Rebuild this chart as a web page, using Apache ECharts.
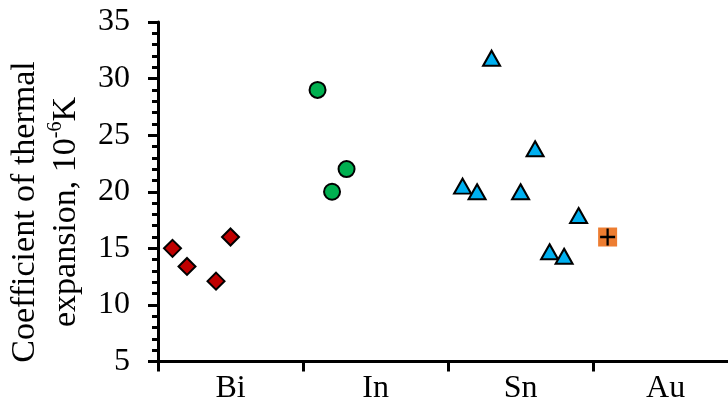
<!DOCTYPE html>
<html>
<head>
<meta charset="utf-8">
<script src="https://cdn.jsdelivr.net/npm/echarts@6/dist/echarts.min.js"></script>
<style>
html,body{margin:0;padding:0;background:#fff;}
#chart{width:728px;height:406px;}
</style>
</head>
<body>
<div id="chart"></div>
<script>
// Categories and tick labels
var categories = ['Bi', 'In', 'Sn', 'Au'];
var yTicks = [5, 10, 15, 20, 25, 30, 35];
var xBoundaries = [0, 1, 2, 3];
var xLabelPos = [0.5, 1.5, 2.5, 3.5];

// Position of each point inside its category slot (0..1) and its value
var biPos = [0.1, 0.2, 0.4, 0.5];
var biVal = [15.0, 13.4, 12.1, 16.0];
var inPos = [0.1, 0.2, 0.3];
var inVal = [29.0, 20.0, 22.0];
var snPos = [0.1, 0.2, 0.3, 0.5, 0.6, 0.7, 0.8, 0.9];
var snVal = [20.5, 20.0, 31.8, 20.0, 23.8, 14.7, 14.3, 17.9];
var auPos = [0.1];
var auVal = [16.0];

function pts(catIdx, pos, val) {
  return pos.map(function (p, i) { return [catIdx + p, val[i]]; });
}

var FONT = 'Liberation Serif';
var chart = echarts.init(document.getElementById('chart'));
var option = {
  animation: false,
  backgroundColor: '#ffffff',
  grid: { left: 158, top: 22, bottom: 44.5, right: 0, containLabel: false },
  xAxis: {
    type: 'value', min: 0, max: 3.93,
    axisLine: { show: true, lineStyle: { color: '#000', width: 3 } },
    axisTick: { show: true, inside: false, length: 10, customValues: xBoundaries, lineStyle: { color: '#000', width: 3 } },
    axisLabel: {
      show: true, customValues: xLabelPos, margin: 11, color: '#000', fontFamily: FONT, fontSize: 32,
      formatter: function (v) { var i = Math.round(v - 0.5); return categories[i] || ''; }
    },
    splitLine: { show: false }
  },
  yAxis: {
    type: 'value', min: yTicks[0], max: yTicks[yTicks.length - 1], interval: 5,
    axisLine: { show: true, lineStyle: { color: '#000', width: 3 } },
    axisTick: { show: true, inside: false, length: 10, lineStyle: { color: '#000', width: 3 } },
    minorTick: { show: true, splitNumber: 5, length: 6, lineStyle: { color: '#000', width: 3 } },
    axisLabel: { margin: 28, color: '#000', fontFamily: FONT, fontSize: 32 },
    splitLine: { show: false }
  },
  graphic: [
    {
      type: 'text', x: 46, y: 212, rotation: Math.PI / 2,
      style: {
        text: 'Coefficient of thermal\nexpansion, 10{sup|-6}K',
        fontFamily: FONT, fontSize: 34, fill: '#000',
        lineHeight: 41,
        align: 'center', verticalAlign: 'middle',
        rich: { sup: { fontFamily: FONT, fontSize: 20, fill: '#000', verticalAlign: 'top', lineHeight: 41, padding: [0, 0, 14, 0] } }
      }
    }
  ],
  series: [
    {
      type: 'scatter', data: pts(0, biPos, biVal),
      symbol: 'diamond', symbolSize: 17,
      itemStyle: { color: '#C00000', borderColor: '#000', borderWidth: 2, opacity: 1 }
    },
    {
      type: 'scatter', data: pts(1, inPos, inVal),
      symbol: 'circle', symbolSize: 16,
      itemStyle: { color: '#00B050', borderColor: '#000', borderWidth: 2, opacity: 1 }
    },
    {
      type: 'scatter', data: pts(2, snPos, snVal),
      symbol: 'triangle', symbolSize: [17, 15],
      itemStyle: { color: '#00B0F0', borderColor: '#000', borderWidth: 2, opacity: 1 }
    },
    {
      type: 'scatter', data: pts(3, auPos, auVal),
      symbol: 'rect', symbolSize: 19,
      itemStyle: { color: '#ED7D31', opacity: 1 }
    },
    {
      type: 'scatter', data: pts(3, auPos, auVal),
      symbol: 'path://M0,7.3h16v2.4h-16z M6.8,0h2.4v17h-2.4z', symbolSize: [15, 17],
      symbolKeepAspect: false,
      itemStyle: { color: '#000', opacity: 1 }
    }
  ]
};
chart.setOption(option);
</script>
</body>
</html>
